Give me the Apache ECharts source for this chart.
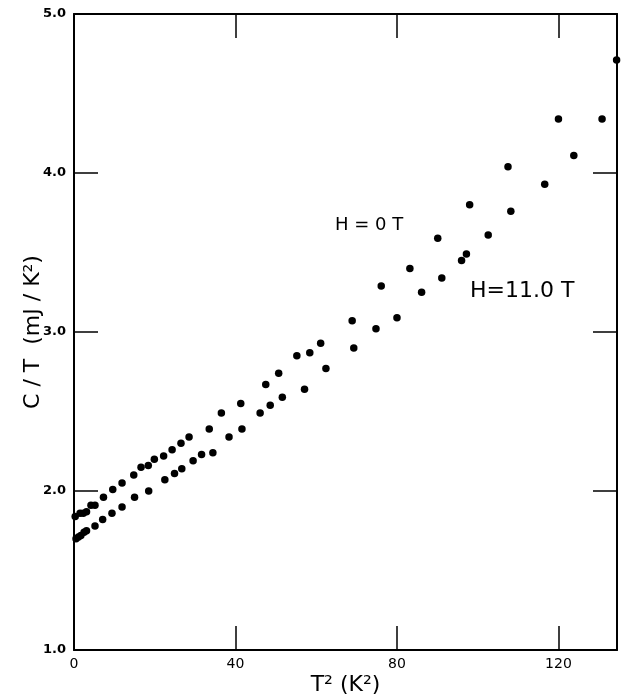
<!DOCTYPE html>
<html>
<head>
<meta charset="utf-8">
<script src="https://cdn.jsdelivr.net/npm/echarts@6/dist/echarts.min.js"></script>
<style>
  html, body { margin: 0; padding: 0; background: #fff; }
  #chart { width: 624px; height: 698px; }
</style>
</head>
<body>
<div id="chart"></div>
<script>
// T^2 (K^2) and C/T (mJ/K^2)
const zeroFieldT2 = [0.3, 1.5, 2.3, 3.1, 4.2, 5.2, 7.3, 9.6, 11.9, 14.8, 16.6, 18.4, 19.9, 22.2, 24.3, 26.5,
    28.5, 33.5, 36.5, 41.3, 47.5, 50.7, 55.2, 58.4, 61.1, 68.9, 76.1, 83.2, 90.1, 98.0, 107.5, 120.0, 134.4];
const zeroFieldCT = [1.84, 1.86, 1.86, 1.87, 1.91, 1.91, 1.96, 2.01, 2.05, 2.10, 2.15, 2.16, 2.20, 2.22, 2.26, 2.30,
    2.34, 2.39, 2.49, 2.55, 2.67, 2.74, 2.85, 2.87, 2.93, 3.07, 3.29, 3.40, 3.59, 3.80, 4.04, 4.34, 4.71];

const highFieldT2 = [0.5, 1.1, 1.7, 2.5, 3.1, 5.2, 7.1, 9.4, 11.9, 15.0, 18.5, 22.5, 24.9, 26.7, 29.5, 31.6,
    34.4, 38.4, 41.6, 46.1, 48.6, 51.6, 57.1, 62.4, 69.3, 74.8, 80.0, 86.1, 91.1, 96.0, 97.2, 102.6, 108.2,
    116.6, 123.8, 130.8];
const highFieldCT = [1.70, 1.71, 1.72, 1.74, 1.75, 1.78, 1.82, 1.86, 1.90, 1.96, 2.00, 2.07, 2.11, 2.14, 2.19, 2.23,
    2.24, 2.34, 2.39, 2.49, 2.54, 2.59, 2.64, 2.77, 2.90, 3.02, 3.09, 3.25, 3.34, 3.45, 3.49, 3.61, 3.76,
    3.93, 4.11, 4.34];

const xTicks = [0, 40, 80, 120];
const yTicks = [1.0, 2.0, 3.0, 4.0, 5.0];

const pairs = (xs, ys) => xs.map((x, i) => [x, ys[i]]);

const font = '"DejaVu Sans", sans-serif';
const ink = '#000';

const axisLine = { show: true, onZero: false, lineStyle: { color: ink, width: 2 } };
const axisTick = { show: true, inside: true, length: 24, lineStyle: { color: ink, width: 1.5 } };

const chart = echarts.init(document.getElementById('chart'));
chart.setOption({
    backgroundColor: '#fff',
    animation: false,
    grid: { left: 74, right: 7, top: 14, bottom: 48, outerBoundsMode: 'none', containLabel: false },
    xAxis: [{
        type: 'value',
        min: 0,
        max: 134.5,
        interval: 40,
        position: 'bottom',
        name: 'T² (K²)',
        nameLocation: 'middle',
        nameGap: 24,
        nameMoveOverlap: false,
        nameTextStyle: { fontFamily: font, fontSize: 22, color: ink },
        axisLine: axisLine,
        axisTick: axisTick,
        splitLine: { show: false },
        axisLabel: {
            showMaxLabel: false,
            margin: 7,
            fontFamily: font, fontSize: 14, color: ink,
            formatter: v => xTicks.includes(v) ? String(v) : ''
        }
    }, {
        type: 'value',
        min: 0,
        max: 134.5,
        interval: 40,
        position: 'top',
        axisLine: axisLine,
        axisTick: axisTick,
        splitLine: { show: false },
        axisLabel: { show: false }
    }],
    yAxis: [{
        type: 'value',
        min: 1,
        max: 5,
        interval: 1,
        position: 'left',
        name: 'C / T  (mJ / K²)',
        nameLocation: 'middle',
        nameGap: 30,
        nameMoveOverlap: false,
        nameTextStyle: { fontFamily: font, fontSize: 22, color: ink },
        axisLine: axisLine,
        axisTick: axisTick,
        splitLine: { show: false },
        axisLabel: {
            margin: 8,
            fontFamily: font, fontSize: 13, fontWeight: 'bold', color: ink,
            formatter: v => yTicks.includes(v) ? v.toFixed(1) : ''
        }
    }, {
        type: 'value',
        min: 1,
        max: 5,
        interval: 1,
        position: 'right',
        axisLine: axisLine,
        axisTick: axisTick,
        splitLine: { show: false },
        axisLabel: { show: false }
    }],
    series: [{
        name: 'H = 0 T',
        type: 'scatter',
        data: pairs(zeroFieldT2, zeroFieldCT),
        symbol: 'circle',
        symbolSize: 7.5,
        itemStyle: { color: ink, opacity: 1 }
    }, {
        name: 'H = 11.0 T',
        type: 'scatter',
        data: pairs(highFieldT2, highFieldCT),
        symbol: 'circle',
        symbolSize: 7.5,
        itemStyle: { color: ink, opacity: 1 }
    }],
    graphic: [{
        type: 'text',
        left: 335,
        top: 216,
        style: { text: 'H = 0 T', fontFamily: font, fontSize: 18, fill: ink }
    }, {
        type: 'text',
        left: 470,
        top: 280,
        style: { text: 'H=11.0 T', fontFamily: font, fontSize: 22, fill: ink }
    }]
});
</script>
</body>
</html>
